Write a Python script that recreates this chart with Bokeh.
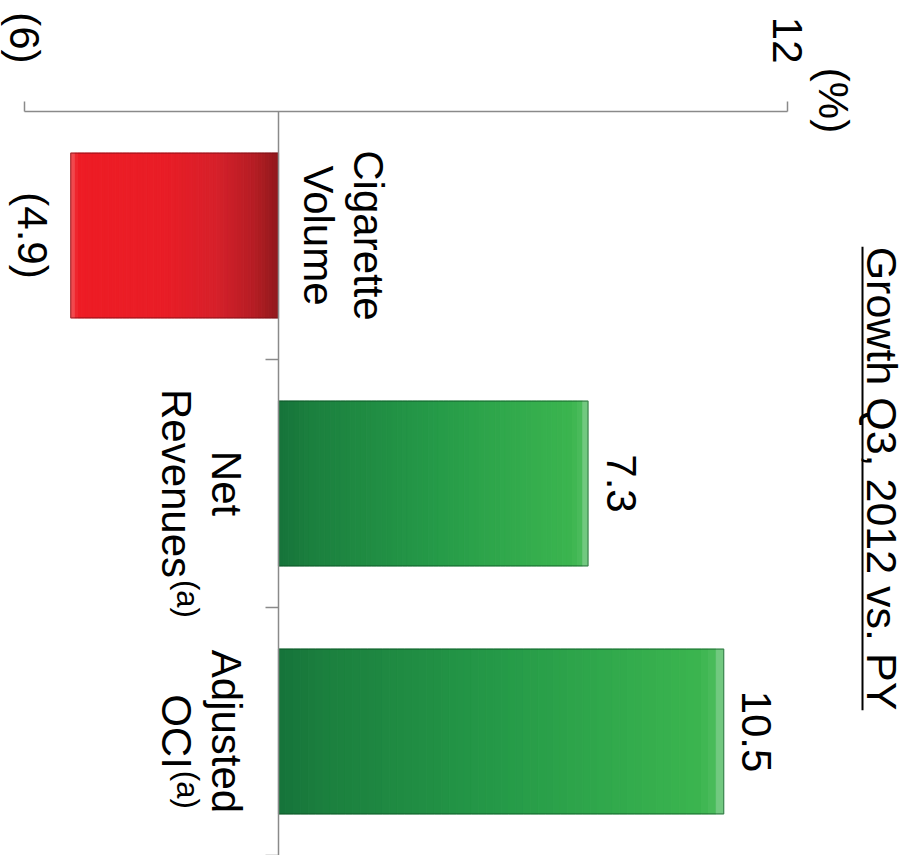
import math

from bokeh.core.properties import value
from bokeh.embed import file_html
from bokeh.models import ColumnDataSource, FixedTicker, LinearAxis, Range1d
from bokeh.plotting import figure
from bokeh.resources import INLINE

# ---- data -------------------------------------------------------------
categories = ["Cigarette Volume", "Net Revenues", "Adjusted OCI"]
label_lines = [["Cigarette", "Volume"], ["Net", "Revenues"], ["Adjusted", "OCI"]]
footnotes = ["", "(a)", "(a)"]
growth = [-4.9, 7.3, 10.5]
value_labels = ["(4.9)", "7.3", "10.5"]
axis_ticks = [-6, 12]
axis_tick_labels = ["(6)", "12"]
title_text = "Growth Q3, 2012 vs. PY"
unit_text = "(%)"

# ---- geometry (pixels) ------------------------------------------------
W, H = 909, 855
ZERO_PX = 278          # where 0 % sits horizontally
UNIT_PX = 42.4         # pixels per percentage point
BAND_PX = 248          # pixels per category band
FIRST_BAND_PX = 235    # centre of the first category band
BAR_H = 0.665

FONT = "Liberation Sans"
FS = 42

x_lo = -ZERO_PX / UNIT_PX
x_hi = (W - ZERO_PX) / UNIT_PX
y_top = -FIRST_BAND_PX / BAND_PX
y_bot = (H - FIRST_BAND_PX) / BAND_PX


def px_to_x(px):
    return (px - ZERO_PX) / UNIT_PX


def px_to_y(py):
    return (py - FIRST_BAND_PX) / BAND_PX


# Arial / Helvetica advance widths (1/1000 em) for measuring labels
ADV = {"R": 722, "e": 556, "v": 500, "n": 556, "u": 556, "s": 500, "O": 778,
       "C": 722, "I": 278, "G": 778, "r": 333, "o": 556, "w": 722, "t": 278,
       "h": 556, "Q": 778, "3": 556, ",": 278, "2": 556, "0": 556, "1": 556,
       ".": 278, "P": 667, "Y": 667, " ": 278}


def text_width(s, size):
    return sum(ADV.get(c, 556) for c in s) * size / 1000.0


def hex_rgb(h):
    h = h.lstrip("#")
    return tuple(int(h[k:k + 2], 16) for k in (0, 2, 4))


def blend(stops, t):
    for (t0, c0), (t1, c1) in zip(stops, stops[1:]):
        if t <= t1:
            f = 0 if t1 == t0 else (t - t0) / (t1 - t0)
            a, b = hex_rgb(c0), hex_rgb(c1)
            return "#%02x%02x%02x" % tuple(round(a[k] + (b[k] - a[k]) * f) for k in range(3))
    return stops[-1][1]


# shading runs from the zero line (t=0) to the bar's end (t=1)
RED_STOPS = [(0.0, "#8f191d"), (0.12, "#b51d24"), (0.3, "#d6202a"),
             (0.55, "#e91d26"), (0.97, "#ee1c25"), (1.0, "#f25a5e")]
GREEN_STOPS = [(0.0, "#16733a"), (0.1, "#1b7f3e"), (0.5, "#259a48"),
               (0.95, "#3bb54f"), (0.975, "#49bb5a"), (1.0, "#86d093")]

p = figure(width=W, height=H, x_range=Range1d(x_lo, x_hi), y_range=Range1d(y_bot, y_top),
           output_backend="svg", toolbar_location=None, min_border=0,
           x_axis_location=None, y_axis_location=None,
           background_fill_color="white", border_fill_color="white")
p.outline_line_color = None
p.xgrid.visible = False
p.ygrid.visible = False

# ---- bars: thin slices give each bar its shaded look --------------------
N = 60
sl = dict(y=[], left=[], right=[], color=[])
for i, v in enumerate(growth):
    stops = RED_STOPS if v < 0 else GREEN_STOPS
    for j in range(N):
        sl["y"].append(i)
        sl["left"].append(v * j / N)
        sl["right"].append(v * (j + 1) / N)
        sl["color"].append(blend(stops, (j + 0.5) / N))
p.hbar(y="y", left="left", right="right", height=BAR_H, fill_color="color",
       line_color="color", line_width=1, source=ColumnDataSource(sl))

edge = ["#6e1115" if v < 0 else "#0f4d24" for v in growth]
p.hbar(y=list(range(len(growth))), left=0, right=growth, height=BAR_H,
       fill_color=None, line_color=edge, line_alpha=0.55, line_width=1.2)

# ---- value axis along the top -------------------------------------------
AXIS_COLOR = "#8a8a8a"
val_axis = LinearAxis(fixed_location=-0.5, bounds=(axis_ticks[0], axis_ticks[-1]),
                      ticker=FixedTicker(ticks=axis_ticks),
                      major_label_overrides={t: s for t, s in zip(axis_ticks, axis_tick_labels)},
                      major_label_orientation=-math.pi / 2,
                      major_label_standoff=38,
                      major_label_text_font=FONT, major_label_text_font_size=f"{FS}px",
                      major_label_text_color="black",
                      axis_line_color=AXIS_COLOR, axis_line_width=1.5,
                      major_tick_line_color=AXIS_COLOR, major_tick_line_width=1.5,
                      major_tick_out=10, major_tick_in=0,
                      minor_tick_line_color=None)
p.add_layout(val_axis, "above")

# ---- zero line with category dividers ------------------------------------
n_cat = len(categories)
p.segment(x0=[0], x1=[0], y0=[-0.5], y1=[n_cat - 0.5],
          line_color=AXIS_COLOR, line_width=1.5)
TICK_LEN = 13 / UNIT_PX
dividers = [i + 0.5 for i in range(n_cat)]
p.segment(x0=[0] * n_cat, x1=[-TICK_LEN] * n_cat, y0=dividers, y1=dividers,
          line_color=AXIS_COLOR, line_width=1.5)

ROT = -math.pi / 2   # text reads top to bottom
TEXT = dict(angle=ROT, text_font=value(FONT), text_baseline="middle", text_color="black")

# ---- value labels ---------------------------------------------------------
p.text(x=growth, y=list(range(len(growth))), text=value_labels,
       x_offset=[33 if v >= 0 else -38 for v in growth],
       text_font_size=value(f"{FS}px"), text_align="center", **TEXT)

# ---- category labels --------------------------------------------------------
LINE_PX = 50
FN_FS = 31
lab = dict(x=[], y=[], text=[], xo=[])
fn = dict(x=[], y=[], text=[], xo=[], yo=[])
for i, (lines, v) in enumerate(zip(label_lines, growth)):
    n = len(lines)
    for k, line in enumerate(lines):
        if v < 0:
            mid = 40 + (n - 1 - k) * LINE_PX      # right of the zero line
        else:
            mid = -52 - k * LINE_PX               # left of the zero line
        lab["x"].append(0)
        lab["y"].append(i)
        lab["text"].append(line)
        lab["xo"].append(mid)
    if footnotes[i]:
        fn["x"].append(0)
        fn["y"].append(i)
        fn["text"].append(footnotes[i])
        fn["xo"].append(lab["xo"][-1] + 11)
        fn["yo"].append(text_width(lines[-1], FS) / 2 + 2)

p.text(x="x", y="y", text="text", x_offset="xo", source=ColumnDataSource(lab),
       text_font_size=value(f"{FS}px"), text_align="center", **TEXT)
p.text(x="x", y="y", text="text", x_offset="xo", y_offset="yo", source=ColumnDataSource(fn),
       text_font_size=value(f"{FN_FS}px"), text_align="left", **TEXT)

# ---- unit marker beside the top tick ---------------------------------------
p.text(x=[axis_ticks[-1]], y=[-0.5], text=[unit_text], x_offset=46, y_offset=-11,
       text_font_size=value(f"{FS}px"), text_align="center", **TEXT)

# ---- underlined heading ------------------------------------------------------
TITLE_FS = 43
TITLE_MID_X_PX = 881
TITLE_MID_Y_PX = 478
UNDERLINE_PX = 862
tw = text_width(title_text, TITLE_FS)
p.text(x=[px_to_x(TITLE_MID_X_PX)], y=[px_to_y(TITLE_MID_Y_PX)], text=[title_text],
       text_font_size=value(f"{TITLE_FS}px"), text_align="center", **TEXT)
p.segment(x0=[px_to_x(UNDERLINE_PX)], x1=[px_to_x(UNDERLINE_PX)],
          y0=[px_to_y(TITLE_MID_Y_PX - tw / 2)], y1=[px_to_y(TITLE_MID_Y_PX + tw / 2)],
          line_color="black", line_width=2)

open("out.html", "w").write(file_html(p, INLINE))
